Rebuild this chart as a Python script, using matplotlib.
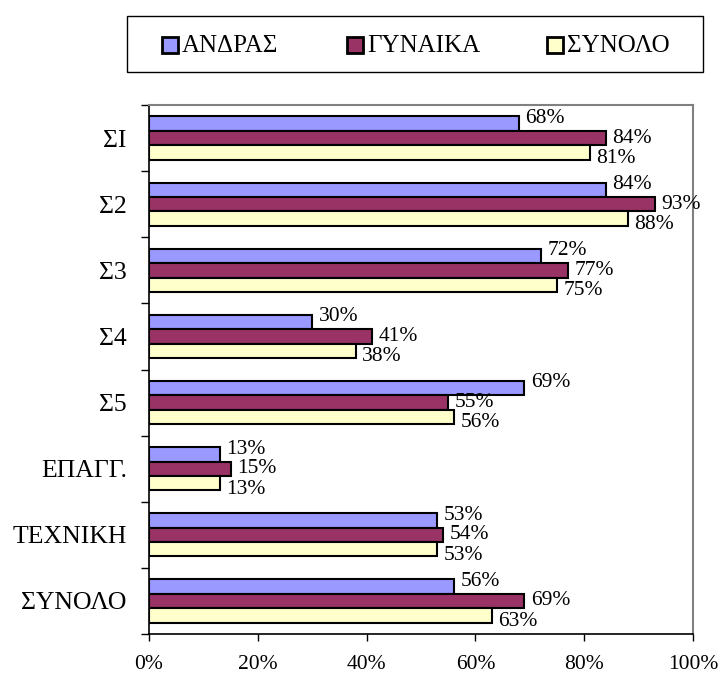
import matplotlib.pyplot as plt
import numpy as np
from matplotlib.patches import Rectangle
from matplotlib.ticker import FixedLocator, FuncFormatter

plt.rcParams["font.family"] = ["Liberation Serif", "DejaVu Serif"]

categories = ["ΣΙ", "Σ2", "Σ3", "Σ4", "Σ5", "ΕΠΑΓΓ.", "ΤΕΧΝΙΚΗ", "ΣΥΝΟΛΟ"]
series_names = ["ΑΝΔΡΑΣ", "ΓΥΝΑΙΚΑ", "ΣΥΝΟΛΟ"]
andras = [68, 84, 72, 30, 69, 13, 53, 56]
gynaika = [84, 93, 77, 41, 55, 15, 54, 69]
synolo = [81, 88, 75, 38, 56, 13, 53, 63]
colors = ["#9999FF", "#993366", "#FFFFCC"]

W, H = 721, 675
fig = plt.figure(figsize=(W / 100, H / 100), dpi=100)
ax = fig.add_axes([0.2067, 0.0607, 0.7545, 0.7837])

n = len(categories)
y = np.arange(n)
h = 0.218
# labels are spread apart a little, like the spreadsheet did
label_shift = [-0.08, 0.0, 0.09]
for i, (vals, col) in enumerate(zip([andras, gynaika, synolo], colors)):
    pos = y + (i - 1) * h
    ax.barh(pos, vals, height=h, color=col, edgecolor="black", linewidth=1.5)
    for p, v in zip(pos, vals):
        ax.text(v + 1.2, p + label_shift[i], f"{v}%", va="center", ha="left",
                fontsize=15.5)

ax.set_xlim(0, 100)
ax.set_ylim(n - 0.5, -0.5)
ax.xaxis.set_major_locator(FixedLocator([0, 20, 40, 60, 80, 100]))
ax.xaxis.set_major_formatter(FuncFormatter(lambda v, _: f"{v:.0f}%"))
ax.set_yticks(y)
ax.set_yticklabels(categories, fontsize=18.5)
ax.yaxis.set_minor_locator(FixedLocator(np.arange(-0.5, n, 1)))
ax.tick_params(axis="y", which="major", length=0, pad=16)
ax.tick_params(axis="y", which="minor", length=6, width=1, direction="out")
ax.tick_params(axis="x", length=5, width=1, direction="out", labelsize=15.5, pad=10)
for s in ["left", "bottom"]:
    ax.spines[s].set_color("black")
    ax.spines[s].set_linewidth(1.2)
for s in ["top", "right"]:
    ax.spines[s].set_color("#808080")
    ax.spines[s].set_linewidth(1.5)

# legend box drawn by hand, in pixel terms of the figure
fig.patches.append(Rectangle((127 / W, 1 - 72 / H), (703 - 127) / W, (72 - 16) / H,
                             transform=fig.transFigure, fill=False,
                             edgecolor="black", linewidth=1.0))
leg_x = [162, 347, 547]
for x0, name, col in zip(leg_x, series_names, colors):
    fig.patches.append(Rectangle((x0 / W, 1 - 53 / H), 16 / W, 16 / H,
                                 transform=fig.transFigure, facecolor=col,
                                 edgecolor="black", linewidth=2))
    fig.text((x0 + 20) / W, 1 - 46 / H, name, fontsize=18, va="center", ha="left")

fig.savefig("out.png", dpi=100)
